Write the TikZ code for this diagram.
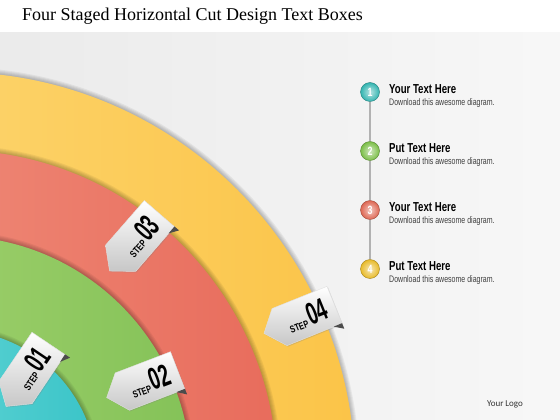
\documentclass[tikz,border=0pt]{standalone}
\usepackage{fontspec}
\setmainfont{Liberation Serif}
\newfontfamily\condfont[FakeStretch=0.74]{Liberation Sans}
\newfontfamily\digitfont[FakeStretch=0.6]{Liberation Sans}
\newfontfamily\logofont{Carlito}
\usetikzlibrary{shapes.symbols,calc,shadows}

\definecolor{ringyellow}{RGB}{251,196,72}
\definecolor{ringyellowlt}{RGB}{254,226,140}
\definecolor{ringred}{RGB}{232,108,92}
\definecolor{ringredlt}{RGB}{244,160,140}
\definecolor{ringgreen}{RGB}{132,194,88}
\definecolor{ringgreenlt}{RGB}{178,218,122}
\definecolor{ringcyan}{RGB}{58,196,200}
\definecolor{ringcyanlt}{RGB}{120,222,220}
\definecolor{ballcyan}{RGB}{50,180,176}
\definecolor{ballgreen}{RGB}{122,190,70}
\definecolor{ballred}{RGB}{222,102,82}
\definecolor{ballyellow}{RGB}{232,186,40}

\newcommand\steplabel[1]{{\condfont\fontsize{10}{10}\selectfont STEP}\,{\digitfont\fontsize{31}{31}\selectfont #1}}

\begin{document}
\begin{tikzpicture}[x=1pt, y=-1pt,
	steptag/.style={signal, signal to=west, signal from=nowhere, signal pointer angle=100,
		minimum width=76pt, minimum height=40pt, inner sep=1pt,
		top color=white, bottom color=black!22, draw=black!12,
		font=\bfseries,
		drop shadow={opacity=0.25, shadow xshift=1pt, shadow yshift=-1pt}},
	numball/.style={circle, minimum size=19pt, inner sep=0pt, draw=#1!70!black, line width=0.4pt,
		inner color=#1!35!white, outer color=#1,
		text=white, font=\condfont\bfseries\fontsize{12}{12}\selectfont},
	itemhead/.style={anchor=west, inner sep=0pt, font=\condfont\bfseries\fontsize{13}{13}\selectfont},
	itemtext/.style={anchor=west, inner sep=0pt, text=black!75, font=\condfont\fontsize{9.5}{10}\selectfont}]

		\useasboundingbox (0,0) rectangle (560,420);

		% background
		\fill[white] (0,0) rectangle (560,33);
		\shade[left color=black!8, right color=black!3] (0,33) rectangle (560,420);

		% title
		\node[anchor=west, inner sep=0pt, font=\fontsize{18}{20}\selectfont] (title) at (22,16) {Four Staged Horizontal Cut Design Text Boxes};

		% the four rings, outermost first
		\begin{scope}
			\clip (0,33) rectangle (560,420);
			\foreach \r/\lt/\dk in {402/ringyellowlt/ringyellow, 324/ringredlt/ringred, 238/ringgreenlt/ringgreen, 144/ringcyanlt/ringcyan}{
				\foreach \s in {1,...,5}
					\fill[black, opacity=0.05] (-47,474) circle [radius=\r+\s];
				\shade[left color=\lt, right color=\dk] (-47,474) circle [radius=\r];
			}
		\end{scope}

		% step tags
		\node[steptag, rotate=56] (s1) at (32,368) {\steplabel{01}};
		\node[steptag, rotate=21] (s2) at (150,381) {\steplabel{02}};
		\node[steptag, rotate=49] (s3) at (140,236) {\steplabel{03}};
		\node[steptag, rotate=22] (s4) at (307,316) {\steplabel{04}};

		% folded corners
		\foreach \t in {s1,s2,s3,s4}
			\fill[black!70] (\t.south east) -- ($(\t.south east)!9pt!(\t.south west)$) -- ($(\t.south east)!6pt!90:(\t.south west)$) -- cycle;

		% numbered list
		\foreach \i/\c/\head/\yy in {1/ballcyan/Your Text Here/92, 2/ballgreen/Put Text Here/151, 3/ballred/Your Text Here/210, 4/ballyellow/Put Text Here/269}{
			\node[numball=\c] (n\i) at (370,\yy) {\i};
			\node[itemhead] (h\i) at (389,\yy-3) {\head};
			\node[itemtext] (d\i) at (389,\yy+11) {Download this awesome diagram.};
		}
		\draw[black!30, line width=1.2pt] (n1) -- (n2) (n2) -- (n3) (n3) -- (n4);

		% logo
		\node[font=\logofont\fontsize{9}{10}\selectfont, text=black!80] (logo) at (505,404) {Your Logo};

\end{tikzpicture}
\end{document}
